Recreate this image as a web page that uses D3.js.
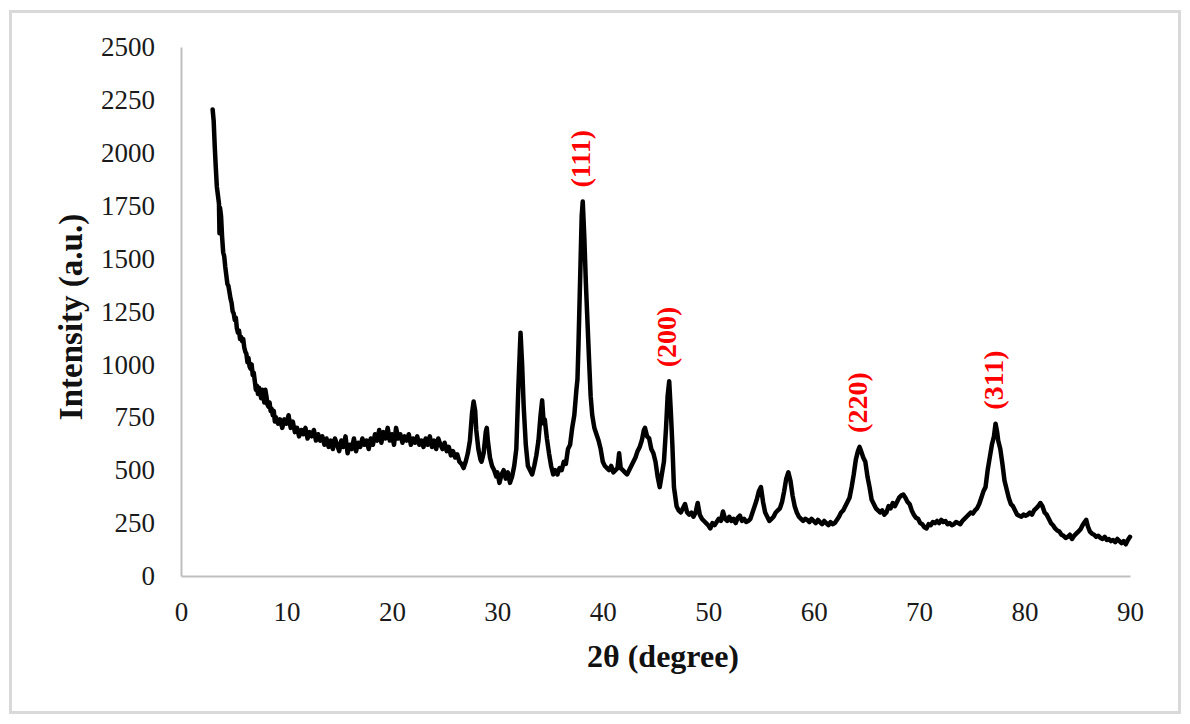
<!DOCTYPE html>
<html>
<head>
<meta charset="utf-8">
<script src="https://cdn.jsdelivr.net/npm/d3@7"></script>
<style>
  body { margin: 0; background: #fff; }
  svg { display: block; font-family: "Liberation Serif", "Times New Roman", serif; }
  .axis path { stroke: #bfbfbf; stroke-width: 2; }
  .axis text { font-family: "Liberation Serif", "Times New Roman", serif; font-size: 27px; fill: #1a1a1a; }
</style>
</head>
<body>
<svg id="chart" width="1190" height="724"></svg>
<script>
// diffraction pattern: [2theta, intensity]
const pattern = [
  [3.0,2205],[3.1,2150],[3.2,2030],[3.3,1930],[3.4,1840],[3.5,1800],[3.6,1760],[3.65,1620],[3.7,1740],[3.8,1700],
  [3.9,1600],[4.0,1530],[4.1,1510],[4.2,1460],[4.3,1420],[4.4,1380],[4.5,1370],[4.6,1340],[4.7,1310],[4.8,1290],
  [4.9,1250],[5.0,1240],[5.1,1210],[5.2,1220],[5.3,1170],[5.4,1150],[5.5,1160],[5.6,1120],[5.7,1130],[5.8,1110],
  [5.9,1120],[6.0,1080],[6.1,1060],[6.2,1050],[6.3,1010],[6.4,1030],[6.5,990],[6.6,980],[6.7,1000],[6.8,950],
  [6.9,960],[7.0,920],[7.1,880],[7.2,900],[7.3,860],[7.4,890],[7.5,870],[7.6,840],[7.7,880],[7.8,860],
  [7.9,820],[8.0,880],[8.1,850],[8.2,810],[8.3,800],[8.4,820],[8.5,780],[8.6,790],[8.7,760],[8.8,780],
  [8.9,730],[9.0,750],[9.2,720],[9.4,740],[9.6,700],[9.8,740],[10.0,720],[10.2,760],[10.4,700],[10.6,730],
  [10.8,680],[11.0,700],[11.2,660],[11.4,690],[11.6,670],[11.8,700],[12.0,650],[12.2,680],[12.4,660],[12.6,690],
  [12.8,640],[13.0,670],[13.2,640],[13.4,660],[13.6,620],[13.8,650],[14.0,610],[14.2,640],[14.4,600],[14.6,650],
  [14.8,620],[15.0,590],[15.2,640],[15.4,610],[15.6,660],[15.8,580],[16.0,620],[16.2,600],[16.4,650],[16.6,590],
  [16.8,630],[17.0,610],[17.2,650],[17.4,620],[17.6,640],[17.8,600],[18.0,650],[18.2,620],[18.4,670],[18.6,640],
  [18.8,690],[19.0,630],[19.2,680],[19.4,650],[19.6,700],[19.8,640],[20.0,670],[20.2,620],[20.4,700],[20.6,650],
  [20.8,670],[21.0,630],[21.2,660],[21.4,640],[21.6,670],[21.8,620],[22.0,650],[22.2,630],[22.4,660],[22.6,620],
  [22.8,640],[23.0,610],[23.2,650],[23.4,620],[23.6,660],[23.8,610],[24.0,640],[24.2,600],[24.4,650],[24.6,620],
  [24.8,600],[25.0,630],[25.2,590],[25.4,610],[25.6,570],[25.8,590],[26.0,560],[26.2,575],[26.4,540],[26.6,530],
  [26.8,510],[27.0,540],[27.2,580],[27.4,640],[27.6,770],[27.75,825],[27.9,780],[28.0,690],[28.2,600],[28.4,550],
  [28.5,540],[28.7,580],[28.9,680],[29.0,700],[29.1,640],[29.3,560],[29.5,520],[29.7,500],[29.9,470],[30.0,490],
  [30.2,440],[30.4,480],[30.6,500],[30.8,460],[31.0,490],[31.2,440],[31.4,470],[31.6,520],[31.8,600],[32.0,900],
  [32.2,1150],[32.35,1000],[32.5,800],[32.7,620],[32.9,520],[33.1,500],[33.3,480],[33.5,520],[33.7,570],[33.9,640],
  [34.1,760],[34.25,830],[34.4,720],[34.5,740],[34.7,650],[34.9,580],[35.1,520],[35.3,480],[35.5,500],[35.7,480],
  [35.9,510],[36.1,500],[36.3,540],[36.5,530],[36.7,600],[36.9,620],[37.1,700],[37.3,760],[37.5,880],[37.6,930],
  [37.7,1100],[37.85,1400],[38.0,1700],[38.1,1770],[38.25,1600],[38.4,1380],[38.55,1200],[38.7,1020],[38.85,850],[39.0,760],
  [39.2,700],[39.4,670],[39.6,640],[39.8,600],[40.0,540],[40.2,520],[40.4,510],[40.6,500],[40.8,520],[41.0,490],
  [41.2,500],[41.4,510],[41.55,580],[41.7,510],[41.9,500],[42.1,490],[42.3,480],[42.5,500],[42.7,520],[42.9,540],
  [43.1,560],[43.3,590],[43.5,610],[43.7,640],[43.9,690],[44.0,700],[44.2,660],[44.4,650],[44.6,600],[44.8,580],
  [45.0,540],[45.2,470],[45.4,420],[45.6,480],[45.8,540],[46.0,700],[46.15,850],[46.3,920],[46.45,780],[46.6,620],
  [46.75,420],[47.0,330],[47.2,310],[47.4,300],[47.6,320],[47.8,340],[48.0,300],[48.2,290],[48.4,300],[48.6,280],
  [48.8,300],[49.0,345],[49.2,290],[49.4,270],[49.6,260],[49.8,250],[50.0,240],[50.2,225],[50.4,250],[50.6,240],
  [50.8,255],[51.0,270],[51.2,260],[51.4,305],[51.6,270],[51.8,260],[52.0,280],[52.2,260],[52.4,270],[52.6,250],
  [52.8,275],[53.0,285],[53.2,260],[53.4,270],[53.6,255],[53.8,260],[54.0,270],[54.2,300],[54.4,330],[54.6,360],
  [54.8,400],[55.0,420],[55.2,350],[55.4,300],[55.6,280],[55.8,260],[56.0,270],[56.2,280],[56.4,300],[56.6,310],
  [56.8,320],[57.0,350],[57.2,400],[57.4,460],[57.6,490],[57.8,450],[58.0,380],[58.2,330],[58.4,300],[58.6,280],
  [58.8,270],[59.0,260],[59.2,270],[59.4,265],[59.6,255],[59.8,270],[60.0,260],[60.2,250],[60.4,265],[60.6,255],
  [60.8,245],[61.0,260],[61.2,250],[61.4,240],[61.6,255],[61.8,245],[62.0,250],[62.2,265],[62.4,280],[62.6,300],
  [62.8,310],[63.0,330],[63.2,350],[63.4,370],[63.6,420],[63.8,480],[64.0,550],[64.2,590],[64.35,610],[64.5,590],
  [64.7,560],[64.9,540],[65.1,470],[65.3,420],[65.5,360],[65.7,340],[65.9,320],[66.1,310],[66.3,300],[66.5,310],
  [66.7,290],[66.9,300],[67.1,330],[67.3,320],[67.5,345],[67.7,330],[67.9,350],[68.1,370],[68.3,380],[68.5,385],
  [68.7,370],[68.9,350],[69.1,340],[69.3,310],[69.5,290],[69.7,275],[69.9,270],[70.1,250],[70.3,245],[70.5,230],
  [70.7,225],[70.9,245],[71.1,240],[71.3,255],[71.5,250],[71.7,260],[71.9,250],[72.1,265],[72.3,255],[72.5,260],
  [72.7,245],[72.9,250],[73.1,240],[73.3,245],[73.5,255],[73.7,250],[73.9,245],[74.1,260],[74.3,270],[74.5,280],
  [74.7,290],[74.9,300],[75.1,295],[75.3,310],[75.5,320],[75.7,340],[75.9,370],[76.1,400],[76.3,420],[76.5,500],
  [76.7,560],[76.9,620],[77.0,640],[77.1,660],[77.25,720],[77.4,680],[77.5,640],[77.7,600],[77.9,530],[78.1,450],
  [78.3,410],[78.5,370],[78.7,340],[78.9,330],[79.1,310],[79.3,290],[79.5,285],[79.7,280],[79.9,290],[80.1,285],
  [80.3,290],[80.5,300],[80.7,290],[80.9,310],[81.1,320],[81.3,330],[81.5,345],[81.7,330],[81.9,300],[82.1,290],
  [82.3,270],[82.5,250],[82.7,240],[82.9,225],[83.1,215],[83.3,210],[83.5,195],[83.7,190],[83.9,180],[84.1,185],
  [84.3,195],[84.5,175],[84.7,190],[84.9,200],[85.1,210],[85.3,220],[85.5,240],[85.7,255],[85.85,265],[86.0,235],
  [86.2,210],[86.4,200],[86.6,195],[86.8,185],[87.0,190],[87.2,180],[87.4,175],[87.6,185],[87.8,170],[88.0,175],
  [88.2,165],[88.4,170],[88.6,160],[88.8,175],[89.0,165],[89.2,155],[89.4,165],[89.6,150],[89.8,170],[90.0,185]
];

const xTicks = [0, 10, 20, 30, 40, 50, 60, 70, 80, 90];
const yTicks = [0, 250, 500, 750, 1000, 1250, 1500, 1750, 2000, 2250, 2500];

const peakNames = ['(111)', '(200)', '(220)', '(311)'];
const peakTheta = [38.1, 46.3, 64.35, 77.25];
const peakIntensity = [1770, 920, 610, 720];

const svg = d3.select('#chart');

// outer frame
svg.append('rect')
  .attr('x', 10.5).attr('y', 11.5)
  .attr('width', 1169).attr('height', 701)
  .attr('fill', 'none')
  .attr('stroke', '#d9d9d9')
  .attr('stroke-width', 3);

const x = d3.scaleLinear().domain([0, 90]).range([181, 1130]);
const y = d3.scaleLinear().domain([0, 2500]).range([576, 47]);

svg.append('g')
  .attr('class', 'axis')
  .attr('transform', `translate(${x(0)},0)`)
  .call(d3.axisLeft(y).tickValues(yTicks).tickFormat(d3.format('d'))
    .tickSize(0).tickSizeOuter(0).tickPadding(26));

svg.append('g')
  .attr('class', 'axis')
  .attr('transform', `translate(0,${y(0)})`)
  .call(d3.axisBottom(x).tickValues(xTicks).tickFormat(d3.format('d'))
    .tickSize(0).tickSizeOuter(0).tickPadding(26));

// pattern
const line = d3.line()
  .x(d => x(d[0]))
  .y(d => y(d[1]));

svg.append('path')
  .datum(pattern)
  .attr('d', line)
  .attr('fill', 'none')
  .attr('stroke', '#000')
  .attr('stroke-width', 4.5)
  .attr('stroke-linejoin', 'round')
  .attr('stroke-linecap', 'round');

// miller index labels, written upward above each peak
svg.selectAll('text.peak').data(peakNames)
  .enter().append('text')
    .attr('class', 'peak')
    .attr('transform', (d, i) => `translate(${x(peakTheta[i]) + 7},${y(peakIntensity[i]) - 14}) rotate(-90)`)
    .attr('fill', '#ff0000')
    .attr('font-size', 28)
    .attr('font-weight', 'bold')
    .text(d => d);

// axis titles
svg.append('text')
  .attr('x', 663).attr('y', 667)
  .attr('text-anchor', 'middle')
  .attr('font-size', 32)
  .attr('font-weight', 'bold')
  .attr('fill', '#111')
  .text('2θ (degree)');

svg.append('text')
  .attr('transform', 'translate(82,317) rotate(-90)')
  .attr('text-anchor', 'middle')
  .attr('font-size', 33)
  .attr('font-weight', 'bold')
  .attr('fill', '#111')
  .text('Intensity (a.u.)');
</script>
</body>
</html>
